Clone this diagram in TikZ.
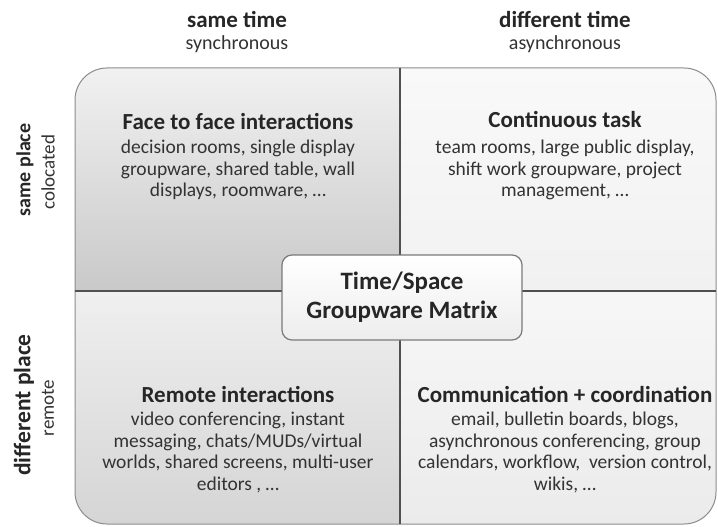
\documentclass[tikz,border=0pt]{standalone}
\usepackage{fontspec}
\setmainfont{Carlito}
\definecolor{txt}{HTML}{262626}
\definecolor{bodytxt}{HTML}{333333}
\definecolor{qatop}{HTML}{F1F1F1}
\definecolor{qabot}{HTML}{C9C9C9}
\definecolor{qbtop}{HTML}{F9F9F9}
\definecolor{qbbot}{HTML}{F1F1F1}
\definecolor{qctop}{HTML}{EFEFEF}
\definecolor{qcbot}{HTML}{D5D5D5}
\definecolor{qdtop}{HTML}{F7F7F7}
\definecolor{qdbot}{HTML}{EBEBEB}
\definecolor{edgecol}{HTML}{8C8C8C}
\definecolor{divcol}{HTML}{505050}
\definecolor{boxedge}{HTML}{7A7A7A}
\definecolor{boxbot}{HTML}{EDEDED}
\begin{document}
\begin{tikzpicture}[x=1pt,y=-1pt,
  head/.style={font=\fontsize{23}{27}\selectfont\bfseries, text=txt, anchor=base, inner sep=0pt},
  subhead/.style={font=\fontsize{20}{24}\selectfont, text=bodytxt, anchor=base, inner sep=0pt},
  sidehead/.style={font=\fontsize{20}{24}\selectfont\bfseries, text=txt, rotate=90, inner sep=0pt},
  sidesub/.style={font=\fontsize{19}{23}\selectfont, text=bodytxt, rotate=90, inner sep=0pt},
  qtitle/.style={font=\fontsize{23}{27}\selectfont\bfseries, text=txt, anchor=base, inner sep=0pt},
  qbody/.style={font=\fontsize{19.5}{21.8}\selectfont, text=bodytxt, align=center, anchor=north, inner sep=0pt},
  centerbox/.style={draw=boxedge, line width=1.2pt, rounded corners=10pt, top color=white, bottom color=boxbot,
    minimum width=240pt, minimum height=85pt, inner sep=0pt, align=center, text=txt,
    font=\fontsize{25}{29}\selectfont\bfseries},
  divider/.style={draw=divcol, line width=1.3pt},
  frame/.style={draw=edgecol, line width=1pt, rounded corners=32pt}
]
\useasboundingbox (0,0) rectangle (718,527);
\fill[white] (0,0) rectangle (718,527);

% quadrant fills
\begin{scope}
  \clip[rounded corners=32pt] (75,68) rectangle (716,524);
  \shade[top color=qatop, bottom color=qabot] (75,68) rectangle (400,291);
  \shade[top color=qbtop, bottom color=qbbot] (400,68) rectangle (716,291);
  \shade[top color=qctop, bottom color=qcbot] (75,291) rectangle (400,524);
  \shade[top color=qdtop, bottom color=qdbot] (400,291) rectangle (716,524);
\end{scope}
\draw[frame] (75,68) rectangle (716,524);

% dividers
\coordinate (vtop) at (400,68);
\coordinate (vbot) at (400,524);
\coordinate (hleft) at (75,291);
\coordinate (hright) at (716,291);
\draw[divider] (vtop) -- (vbot);
\draw[divider] (hleft) -- (hright);

% column headers
\node[head] (sametime) at (237,28) {same time};
\node[subhead] (sync) at (237,50) {synchronous};
\node[head] (difftime) at (565,28) {different time};
\node[subhead] (async) at (565,50) {asynchronous};

% row headers
\node[sidehead] (sameplace) at (25,170) {same place};
\node[sidesub] (coloc) at (48,172) {colocated};
\node[sidehead, font=\fontsize{23.5}{27}\selectfont\bfseries] (diffplace) at (24,405) {different place};
\node[sidesub] (remote) at (48,408) {remote};

% quadrant texts
\node[qtitle] (qatitle) at (238,129) {Face to face interactions};
\node[qbody] (qabody) at (238,139.5) {decision rooms, single display\\groupware, shared table, wall\\displays, roomware, …};

\node[qtitle] (qbtitle) at (565,128) {Continuous task};
\node[qbody] (qbbody) at (565,139.5) {team rooms, large public display,\\shift work groupware, project\\management, …};

\node[qtitle] (qctitle) at (238,402) {Remote interactions};
\node[qbody] (qcbody) at (238,411.5) {video conferencing, instant\\messaging, chats/MUDs/virtual\\worlds, shared screens, multi-user\\editors , …};

\node[qtitle] (qdtitle) at (565,402) {Communication + coordination};
\node[qbody] (qdbody) at (565,411.5) {email, bulletin boards, blogs,\\asynchronous conferencing, group\\calendars, workflow,\ \ version control,\\wikis, …};

% center box
\node[centerbox] (matrix) at (402,297.5) {Time/Space\\Groupware Matrix};
\end{tikzpicture}
\end{document}
